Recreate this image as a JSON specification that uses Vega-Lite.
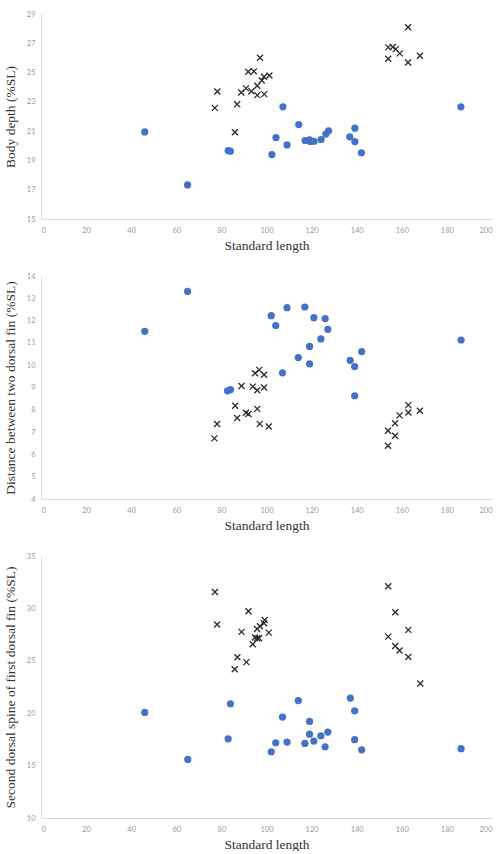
{
  "$schema": "https://vega.github.io/schema/vega-lite/v6.json",
  "background": "white",
  "padding": {"left": 3, "top": 10, "right": 5, "bottom": 0},
  "spacing": 20,
  "datasets": {
    "depth": [
      {"sl": 46, "v": 20.95, "g": "A"}, {"sl": 65, "v": 17.33, "g": "A"}, {"sl": 83, "v": 19.67, "g": "A"},
      {"sl": 84, "v": 19.63, "g": "A"}, {"sl": 102.4, "v": 19.4, "g": "A"}, {"sl": 104.2, "v": 20.56, "g": "A"},
      {"sl": 107.3, "v": 22.66, "g": "A"}, {"sl": 109.1, "v": 20.06, "g": "A"}, {"sl": 114.3, "v": 21.45, "g": "A"},
      {"sl": 117.1, "v": 20.36, "g": "A"}, {"sl": 119.1, "v": 20.4, "g": "A"}, {"sl": 119.5, "v": 20.3, "g": "A"},
      {"sl": 121.1, "v": 20.31, "g": "A"}, {"sl": 124.2, "v": 20.43, "g": "A"}, {"sl": 126.3, "v": 20.8, "g": "A"},
      {"sl": 127.5, "v": 21.02, "g": "A"}, {"sl": 136.9, "v": 20.61, "g": "A"}, {"sl": 139.2, "v": 21.2, "g": "A"},
      {"sl": 139.2, "v": 20.29, "g": "A"}, {"sl": 142.1, "v": 19.52, "g": "A"}, {"sl": 186.2, "v": 22.66, "g": "A"},
      {"sl": 77.1, "v": 22.59, "g": "B"}, {"sl": 78.2, "v": 23.71, "g": "B"}, {"sl": 86, "v": 20.93, "g": "B"},
      {"sl": 87, "v": 22.84, "g": "B"}, {"sl": 88.8, "v": 23.64, "g": "B"}, {"sl": 90.9, "v": 23.92, "g": "B"},
      {"sl": 91.9, "v": 25.06, "g": "B"}, {"sl": 93.3, "v": 23.73, "g": "B"}, {"sl": 94.4, "v": 25.08, "g": "B"},
      {"sl": 95.9, "v": 24.1, "g": "B"}, {"sl": 95.9, "v": 23.46, "g": "B"}, {"sl": 97.1, "v": 26.01, "g": "B"},
      {"sl": 97.9, "v": 24.46, "g": "B"}, {"sl": 98.9, "v": 24.71, "g": "B"}, {"sl": 99, "v": 23.53, "g": "B"},
      {"sl": 101.3, "v": 24.8, "g": "B"}, {"sl": 154, "v": 26.72, "g": "B"}, {"sl": 154, "v": 25.94, "g": "B"},
      {"sl": 156, "v": 26.75, "g": "B"}, {"sl": 157.3, "v": 26.6, "g": "B"}, {"sl": 159.1, "v": 26.31, "g": "B"},
      {"sl": 162.8, "v": 28.09, "g": "B"}, {"sl": 162.8, "v": 25.69, "g": "B"}, {"sl": 168, "v": 26.15, "g": "B"}
    ],
    "distance": [
      {"sl": 46, "v": 11.52, "g": "A"}, {"sl": 65, "v": 13.31, "g": "A"}, {"sl": 82.7, "v": 8.85, "g": "A"},
      {"sl": 84, "v": 8.9, "g": "A"}, {"sl": 102.1, "v": 12.22, "g": "A"}, {"sl": 104.1, "v": 11.78, "g": "A"},
      {"sl": 107.1, "v": 9.66, "g": "A"}, {"sl": 109.1, "v": 12.58, "g": "A"}, {"sl": 114.1, "v": 10.34, "g": "A"},
      {"sl": 117, "v": 12.61, "g": "A"}, {"sl": 119.1, "v": 10.84, "g": "A"}, {"sl": 119.1, "v": 10.06, "g": "A"},
      {"sl": 121, "v": 12.13, "g": "A"}, {"sl": 124.1, "v": 11.18, "g": "A"}, {"sl": 126, "v": 12.09, "g": "A"},
      {"sl": 127.2, "v": 11.61, "g": "A"}, {"sl": 137.1, "v": 10.22, "g": "A"}, {"sl": 139.1, "v": 9.94, "g": "A"},
      {"sl": 139.1, "v": 8.63, "g": "A"}, {"sl": 142.2, "v": 10.61, "g": "A"}, {"sl": 186.3, "v": 11.13, "g": "A"},
      {"sl": 76.9, "v": 6.72, "g": "B"}, {"sl": 78.1, "v": 7.36, "g": "B"}, {"sl": 86.1, "v": 8.18, "g": "B"},
      {"sl": 87, "v": 7.63, "g": "B"}, {"sl": 88.9, "v": 9.07, "g": "B"}, {"sl": 90.9, "v": 7.87, "g": "B"},
      {"sl": 92, "v": 7.81, "g": "B"}, {"sl": 93.9, "v": 9.04, "g": "B"}, {"sl": 94.9, "v": 9.64, "g": "B"},
      {"sl": 95.9, "v": 8.04, "g": "B"}, {"sl": 95.9, "v": 8.88, "g": "B"}, {"sl": 96.8, "v": 9.79, "g": "B"},
      {"sl": 97, "v": 7.37, "g": "B"}, {"sl": 98.9, "v": 9.57, "g": "B"}, {"sl": 98.9, "v": 9.0, "g": "B"},
      {"sl": 101, "v": 7.25, "g": "B"}, {"sl": 153.9, "v": 7.06, "g": "B"}, {"sl": 153.9, "v": 6.39, "g": "B"},
      {"sl": 157, "v": 7.4, "g": "B"}, {"sl": 157, "v": 6.84, "g": "B"}, {"sl": 159, "v": 7.75, "g": "B"},
      {"sl": 162.9, "v": 8.21, "g": "B"}, {"sl": 162.9, "v": 7.88, "g": "B"}, {"sl": 168, "v": 7.96, "g": "B"}
    ],
    "spine": [
      {"sl": 46, "v": 20.07, "g": "A"}, {"sl": 65.1, "v": 15.59, "g": "A"}, {"sl": 83, "v": 17.56, "g": "A"},
      {"sl": 84, "v": 20.9, "g": "A"}, {"sl": 102.1, "v": 16.32, "g": "A"}, {"sl": 104.1, "v": 17.18, "g": "A"},
      {"sl": 107.1, "v": 19.63, "g": "A"}, {"sl": 109.1, "v": 17.24, "g": "A"}, {"sl": 114.1, "v": 21.21, "g": "A"},
      {"sl": 117, "v": 17.12, "g": "A"}, {"sl": 119.1, "v": 19.21, "g": "A"}, {"sl": 119.1, "v": 18.0, "g": "A"},
      {"sl": 121, "v": 17.34, "g": "A"}, {"sl": 124.1, "v": 17.85, "g": "A"}, {"sl": 126, "v": 16.8, "g": "A"},
      {"sl": 127.2, "v": 18.2, "g": "A"}, {"sl": 137.2, "v": 21.44, "g": "A"}, {"sl": 139.1, "v": 20.23, "g": "A"},
      {"sl": 139.1, "v": 17.47, "g": "A"}, {"sl": 142.2, "v": 16.51, "g": "A"}, {"sl": 186.3, "v": 16.61, "g": "A"},
      {"sl": 77.1, "v": 31.57, "g": "B"}, {"sl": 78.1, "v": 28.46, "g": "B"}, {"sl": 85.9, "v": 24.2, "g": "B"},
      {"sl": 87.1, "v": 25.34, "g": "B"}, {"sl": 88.9, "v": 27.76, "g": "B"}, {"sl": 91.1, "v": 24.87, "g": "B"},
      {"sl": 92, "v": 29.73, "g": "B"}, {"sl": 93.9, "v": 26.58, "g": "B"}, {"sl": 94.9, "v": 27.22, "g": "B"},
      {"sl": 95.8, "v": 28.04, "g": "B"}, {"sl": 95.9, "v": 27.15, "g": "B"}, {"sl": 96.7, "v": 27.15, "g": "B"},
      {"sl": 97.1, "v": 28.3, "g": "B"}, {"sl": 98.9, "v": 28.58, "g": "B"}, {"sl": 99.2, "v": 28.9, "g": "B"},
      {"sl": 101, "v": 27.69, "g": "B"}, {"sl": 154, "v": 32.11, "g": "B"}, {"sl": 154, "v": 27.31, "g": "B"},
      {"sl": 157.1, "v": 29.63, "g": "B"}, {"sl": 157.1, "v": 26.42, "g": "B"}, {"sl": 159, "v": 25.98, "g": "B"},
      {"sl": 162.9, "v": 27.95, "g": "B"}, {"sl": 162.9, "v": 25.37, "g": "B"}, {"sl": 168.2, "v": 22.83, "g": "B"}
    ]
  },
  "config": {
    "view": {"stroke": null},
    "axis": {
      "grid": false,
      "ticks": false,
      "domainColor": "#d9d9d9",
      "domainWidth": 1,
      "labelFont": "Lato",
      "labelFontSize": 7.5,
      "labelColor": "#9a9a9a",
      "labelPadding": 6,
      "titleFont": "Liberation Serif",
      "titleFontSize": 13.5,
      "titleFontWeight": "normal",
      "titleColor": "#333333"
    },
    "axisX": {"titlePadding": 5, "labelPadding": 7},
    "axisY": {"titlePadding": 8.5}
  },
  "vconcat": [
    {
      "width": 451,
      "height": 205,
      "data": {"name": "depth"},
      "encoding": {
        "x": {"field": "sl", "type": "quantitative", "title": "Standard length",
              "scale": {"domain": [0, 200], "nice": false},
              "axis": {"values": [0, 20, 40, 60, 80, 100, 120, 140, 160, 180, 200]}},
        "y": {"field": "v", "type": "quantitative", "title": "Body depth (%SL)",
              "scale": {"domain": [15, 29], "nice": false, "zero": false},
              "axis": {"values": [15, 17, 19, 21, 23, 25, 27, 29]}}
      },
      "layer": [
        {"transform": [{"filter": "datum.g === 'A'"}],
         "mark": {"type": "point", "shape": "circle", "filled": true, "size": 52, "color": "#4472c4", "opacity": 1}},
        {"transform": [{"filter": "datum.g === 'B'"}],
         "mark": {"type": "point", "shape": "M-1,-1L1,1M-1,1L1,-1", "filled": false, "size": 36, "color": "#2b2b2b", "strokeWidth": 1.3, "opacity": 1}}
      ]
    },
    {
      "width": 451,
      "height": 223,
      "data": {"name": "distance"},
      "encoding": {
        "x": {"field": "sl", "type": "quantitative", "title": "Standard length",
              "scale": {"domain": [0, 200], "nice": false},
              "axis": {"values": [0, 20, 40, 60, 80, 100, 120, 140, 160, 180, 200]}},
        "y": {"field": "v", "type": "quantitative", "title": "Distance between two dorsal fin (%SL)",
              "scale": {"domain": [4, 14], "nice": false, "zero": false},
              "axis": {"values": [4, 5, 6, 7, 8, 9, 10, 11, 12, 13, 14]}}
      },
      "layer": [
        {"transform": [{"filter": "datum.g === 'A'"}],
         "mark": {"type": "point", "shape": "circle", "filled": true, "size": 52, "color": "#4472c4", "opacity": 1}},
        {"transform": [{"filter": "datum.g === 'B'"}],
         "mark": {"type": "point", "shape": "M-1,-1L1,1M-1,1L1,-1", "filled": false, "size": 36, "color": "#2b2b2b", "strokeWidth": 1.3, "opacity": 1}}
      ]
    },
    {
      "width": 451,
      "height": 262,
      "data": {"name": "spine"},
      "encoding": {
        "x": {"field": "sl", "type": "quantitative", "title": "Standard length",
              "scale": {"domain": [0, 200], "nice": false},
              "axis": {"values": [0, 20, 40, 60, 80, 100, 120, 140, 160, 180, 200]}},
        "y": {"field": "v", "type": "quantitative", "title": "Second dorsal spine of first dorsal fin (%SL)",
              "scale": {"domain": [10, 35], "nice": false, "zero": false},
              "axis": {"values": [10, 15, 20, 25, 30, 35]}}
      },
      "layer": [
        {"transform": [{"filter": "datum.g === 'A'"}],
         "mark": {"type": "point", "shape": "circle", "filled": true, "size": 52, "color": "#4472c4", "opacity": 1}},
        {"transform": [{"filter": "datum.g === 'B'"}],
         "mark": {"type": "point", "shape": "M-1,-1L1,1M-1,1L1,-1", "filled": false, "size": 36, "color": "#2b2b2b", "strokeWidth": 1.3, "opacity": 1}}
      ]
    }
  ]
}
